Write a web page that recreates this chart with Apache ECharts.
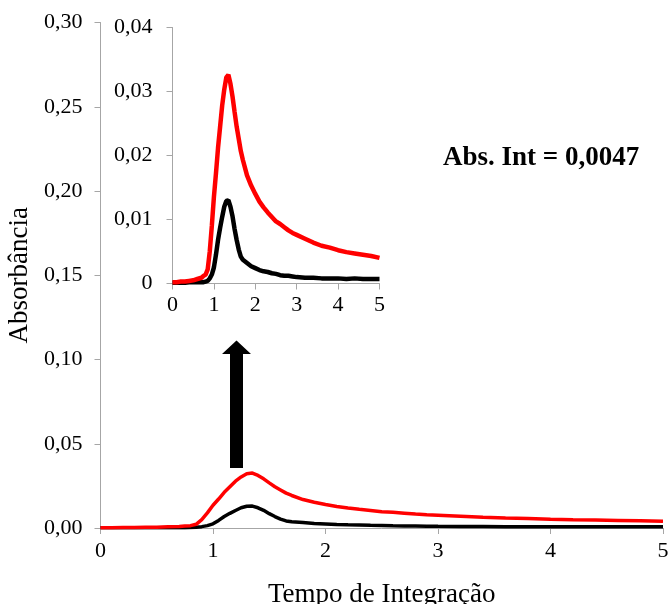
<!DOCTYPE html>
<html>
<head>
<meta charset="utf-8">
<script src="https://cdn.jsdelivr.net/npm/echarts@6/dist/echarts.min.js"></script>
<style>
  html, body { margin: 0; padding: 0; background: #fff; }
  #chart { width: 671px; height: 604px; }
</style>
</head>
<body>
<div id="chart"></div>
<script>
// Integration time (s)
const tempo = [0, 0.1, 0.2, 0.3, 0.4, 0.5, 0.6, 0.7, 0.75, 0.8, 0.85, 0.9, 0.95, 1.0, 1.05, 1.1, 1.15, 1.2, 1.25, 1.3,
  1.35, 1.4, 1.45, 1.5, 1.55, 1.6, 1.65, 1.7, 1.8, 1.9, 2.0, 2.1, 2.2, 2.3, 2.4, 2.5, 2.6, 2.7, 2.8, 2.9,
  3.0, 3.2, 3.4, 3.6, 3.8, 4.0, 4.2, 4.4, 4.6, 4.8, 5.0];

// Absorbance, red trace
const absVermelho = [0.0002, 0.0002, 0.0003, 0.0003, 0.0004, 0.0005, 0.0007, 0.0009, 0.0012, 0.0014, 0.0022, 0.0050, 0.0090, 0.0135, 0.0172, 0.0212, 0.0245, 0.0278, 0.0303, 0.0322,
  0.0326, 0.0312, 0.0292, 0.0268, 0.0245, 0.0226, 0.0207, 0.0193, 0.0169, 0.0153, 0.0140, 0.0128, 0.0119, 0.0111, 0.0104, 0.0097, 0.0093, 0.0088, 0.0083, 0.0079,
  0.0076, 0.0070, 0.0064, 0.0059, 0.0056, 0.0052, 0.0049, 0.0047, 0.0045, 0.0043, 0.0040];

// Absorbance, black trace
const absPreto = [0.0001, 0.0001, 0.0001, 0.0001, 0.0002, 0.0002, 0.0002, 0.0002, 0.0002, 0.0003, 0.0004, 0.0008, 0.0014, 0.0025, 0.0045, 0.0068, 0.0087, 0.0104, 0.0120, 0.0129,
  0.0130, 0.0120, 0.0105, 0.0085, 0.0068, 0.0053, 0.0042, 0.0037, 0.0032, 0.0027, 0.0024, 0.0021, 0.0019, 0.0018, 0.0016, 0.0015, 0.0013, 0.0012, 0.0012, 0.0011,
  0.0010, 0.0009, 0.0009, 0.0008, 0.0008, 0.0008, 0.0007, 0.0008, 0.0007, 0.0007, 0.0007];

const xTicks = [0, 1, 2, 3, 4, 5];
const yTicksMain = [0, 0.05, 0.10, 0.15, 0.20, 0.25, 0.30];
const yTicksInset = [0, 0.01, 0.02, 0.03, 0.04];
const anotacao = 'Abs. Int = 0,0047';

const serif = 'Liberation Serif';
const axisGray = '#a6a6a6';

const pares = (ys) => tempo.map((t, i) => [t, ys[i]]);
const virgula = (v, d) => v.toFixed(d).replace('.', ',');

function xAxisCfg(gridIndex, margin, extra) {
  return Object.assign({
    type: 'value', gridIndex,
    min: xTicks[0], max: xTicks[xTicks.length - 1], interval: 1,
    axisLine: { show: true, onZero: false, lineStyle: { color: axisGray, width: 1 } },
    axisTick: { show: true, inside: false, length: 6, lineStyle: { color: axisGray } },
    axisLabel: { fontFamily: serif, fontSize: 22, color: '#000', margin },
    splitLine: { show: false }
  }, extra || {});
}

const chart = echarts.init(document.getElementById('chart'), null, { renderer: 'canvas' });

chart.setOption({
  animation: false,
  backgroundColor: '#fff',
  grid: [
    { left: 100.5, right: 8, top: 22.5, bottom: 76, containLabel: false, outerBoundsMode: 'none' },
    { left: 172.5, right: 671 - 379.5, top: 27.5, bottom: 604 - 283.5, containLabel: false, outerBoundsMode: 'none' }
  ],
  xAxis: [
    xAxisCfg(0, 12, {
      name: 'Tempo de Integração', nameLocation: 'middle', nameGap: 53,
      nameTextStyle: { fontFamily: serif, fontSize: 27, color: '#000' }
    }),
    xAxisCfg(1, 11)
  ],
  yAxis: [
    {
      type: 'value', gridIndex: 0,
      min: yTicksMain[0], max: yTicksMain[yTicksMain.length - 1], interval: 0.05,
      axisLine: { show: true, lineStyle: { color: axisGray, width: 1 } },
      axisTick: { show: true, length: 6, lineStyle: { color: axisGray } },
      axisLabel: { fontFamily: serif, fontSize: 22, color: '#000', margin: 18, formatter: (v) => virgula(v, 2) },
      splitLine: { show: false },
      name: 'Absorbância', nameLocation: 'middle', nameGap: 64,
      nameTextStyle: { fontFamily: serif, fontSize: 27, color: '#000' }
    },
    {
      type: 'value', gridIndex: 1,
      min: yTicksInset[0], max: yTicksInset[yTicksInset.length - 1], interval: 0.01,
      axisLine: { show: true, lineStyle: { color: axisGray, width: 1 } },
      axisTick: { show: true, length: 6, lineStyle: { color: axisGray } },
      axisLabel: { fontFamily: serif, fontSize: 22, color: '#000', margin: 20, formatter: (v) => v === 0 ? '0' : virgula(v, 2) },
      splitLine: { show: false }
    }
  ],
  series: [
    { type: 'line', xAxisIndex: 0, yAxisIndex: 0, data: pares(absPreto), showSymbol: false, lineStyle: { color: '#000', width: 3.5 }, z: 3 },
    { type: 'line', xAxisIndex: 0, yAxisIndex: 0, data: pares(absVermelho), showSymbol: false, lineStyle: { color: '#ff0000', width: 3.5 }, z: 4 },
    { type: 'line', xAxisIndex: 1, yAxisIndex: 1, data: pares(absPreto), showSymbol: false, lineStyle: { color: '#000', width: 4.5 }, z: 3 },
    { type: 'line', xAxisIndex: 1, yAxisIndex: 1, data: pares(absVermelho), showSymbol: false, lineStyle: { color: '#ff0000', width: 4.5 }, z: 4 }
  ],
  graphic: [
    {
      // upward arrow pointing from the main peak to the zoomed view
      type: 'polygon',
      shape: { points: [[230, 468], [243, 468], [243, 354], [251, 354], [236.5, 340.5], [222, 354], [230, 354]] },
      style: { fill: '#000' }
    },
    {
      type: 'text',
      left: 443, top: 145,
      style: { text: anotacao, fontFamily: serif, fontSize: 27, fontWeight: 'bold', fill: '#000' }
    }
  ]
});
</script>
</body>
</html>
